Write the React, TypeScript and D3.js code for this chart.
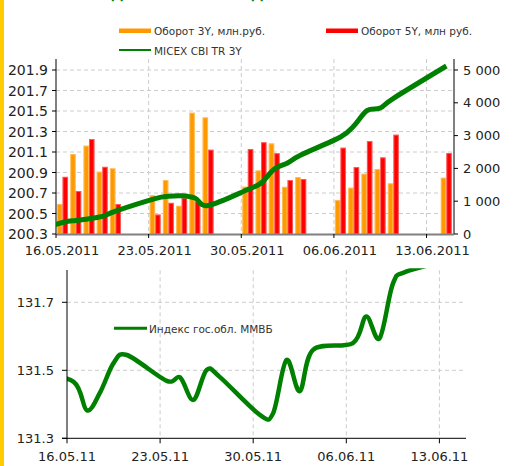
import React from 'react';
import * as d3 from 'd3';

// ---- data ----
const tradeDays = [
  '2011-05-16', '2011-05-17', '2011-05-18', '2011-05-19', '2011-05-20',
  '2011-05-23', '2011-05-24', '2011-05-25', '2011-05-26', '2011-05-27',
  '2011-05-30', '2011-05-31', '2011-06-01', '2011-06-02', '2011-06-03',
  '2011-06-06', '2011-06-07', '2011-06-08', '2011-06-09', '2011-06-10',
  '2011-06-14',
];
const turnover3Y = [915, 2439, 2693, 1900, 2005, 1185, 1646, 860, 3699, 3557, 1443, 1940, 2764, 1438, 1738, 1037, 1412, 1839, 1982, 1545, 1716];
const turnover5Y = [1743, 1311, 2896, 2048, 915, 595, 950, 1100, 990, 2571, 2591, 2800, 2465, 1646, 1677, 2632, 2043, 2835, 2337, 3028, 2470];

const lineDays = ['2011-05-13', ...tradeDays];
const cbiValues = [200.30, 200.412, 200.432, 200.449, 200.471, 200.524, 200.646, 200.668, 200.673, 200.651, 200.578, 200.734, 200.798, 200.934, 200.993, 201.071, 201.246, 201.354, 201.503, 201.529, 201.624, 201.939];
const mmvbValues = [131.495, 131.466, 131.382, 131.436, 131.521, 131.545, 131.469, 131.479, 131.413, 131.501, 131.48, 131.369, 131.374, 131.53, 131.439, 131.56, 131.58, 131.658, 131.594, 131.754, 131.79, 131.83];

const leftTicks = [200.3, 200.5, 200.7, 200.9, 201.1, 201.3, 201.5, 201.7, 201.9];
const rightTicks = [0, 1000, 2000, 3000, 4000, 5000];
const bottomTicks = [131.3, 131.5, 131.7];
const weekTicks = ['2011-05-16', '2011-05-23', '2011-05-30', '2011-06-06', '2011-06-13'];
const domainDays = ['2011-05-16', '2011-06-15'];

const legendTop = ['Оборот 3Y, млн.руб.', 'Оборот 5Y, млн руб.', 'MICEX CBI TR 3Y'];
const legendBottom = 'Индекс гос.обл. ММВБ';
const titleText = 'Динамика';

const parse = (s: string) => new Date(s + 'T00:00:00Z');
const FONT = 'DejaVu Sans, Verdana, sans-serif';
const ORANGE = '#FF9900';
const RED = '#FF0000';
const GREEN = '#008000';
const GRID = '#cccccc';

const spaceFmt = d3.formatLocale({ decimal: '.', thousands: ' ', grouping: [3], currency: ['', ''] }).format(',');

export default function App() {
  // top chart
  const T = { l: 56, r: 453, t: 70, b: 234, top: 59 };
  const x1 = d3.scaleUtc().domain(domainDays.map(parse)).range([T.l, T.r]);
  const yL = d3.scaleLinear().domain([200.3, 201.9]).range([T.b, T.t]);
  const yR = d3.scaleLinear().domain([0, 5000]).range([T.b, T.t]);
  const center1 = (s: string) => x1(d3.utcHour.offset(parse(s), 12));
  const line1 = d3.line<number>()
    .x((_, i) => center1(lineDays[i]))
    .y((v) => yL(v))
    .curve(d3.curveCardinal.tension(0));

  // bottom chart
  const B = { l: 67, r: 466, t: 268.3, b: 438.3 };
  const x2 = d3.scaleUtc().domain(domainDays.map(parse)).range([B.l, B.r]);
  const y2 = d3.scaleLinear().domain([131.3, 131.8]).range([B.b, B.t]);
  const center2 = (s: string) => x2(d3.utcHour.offset(parse(s), 12));
  const line2 = d3.line<number>()
    .x((_, i) => center2(lineDays[i]))
    .y((v) => y2(v))
    .curve(d3.curveCardinal.tension(0));

  const fmtLong = d3.utcFormat('%d.%m.%Y');
  const fmtShort = d3.utcFormat('%d.%m.%y');

  return (
    <svg width={514} height={466} style={{ position: 'fixed', left: 0, top: 0, background: '#fff' }} fontFamily={FONT}>
      <defs>
        <clipPath id="clipTop"><rect x={T.l} y={T.top} width={T.r - T.l} height={T.b - T.top} /></clipPath>
        <clipPath id="clipBot"><rect x={B.l} y={B.t} width={B.r - B.l} height={B.b - B.t} /></clipPath>
      </defs>
      <rect x={0} y={0} width={514} height={466} fill="#fff" />
      <rect x={0} y={0} width={4} height={466} fill="#FFCC00" />

      {/* cut-off title */}
      <text x={111} y={-1} fontSize={14} fontWeight="bold" fill={GREEN}>{titleText}</text>
      <text x={251} y={-1} fontSize={14} fontWeight="bold" fill={GREEN}>{titleText}</text>

      {/* legend top */}
      <rect x={119} y={28.5} width={32} height={4.5} fill={ORANGE} />
      <text x={154} y={30.8} fontSize={10.5} fill="#333" dominantBaseline="central">{legendTop[0]}</text>
      <rect x={326} y={28.5} width={32} height={4.5} fill={RED} />
      <text x={361} y={30.8} fontSize={10.5} fill="#333" dominantBaseline="central">{legendTop[1]}</text>
      <line x1={119} x2={151} y1={50} y2={50} stroke={GREEN} strokeWidth={2} />
      <text x={154} y={50.5} fontSize={10.5} fill="#333" dominantBaseline="central">{legendTop[2]}</text>

      {/* top grid */}
      {leftTicks.slice(1).map((v) => (
        <line key={'hg' + v} x1={T.l} x2={T.r} y1={yL(v)} y2={yL(v)} stroke={GRID} strokeDasharray="4,3" />
      ))}
      {weekTicks.slice(1).map((d) => (
        <line key={'vg' + d} x1={x1(parse(d))} x2={x1(parse(d))} y1={T.top} y2={T.b} stroke={GRID} strokeDasharray="4,3" />
      ))}

      {/* bars */}
      {tradeDays.map((d, i) => {
        const x0 = x1(parse(d));
        const band = x1(d3.utcDay.offset(parse(d), 1)) - x0;
        const w = (band - 2.2) / 2;
        const yo = yR(turnover3Y[i]);
        const yr = yR(turnover5Y[i]);
        return (
          <g key={'b' + d}>
            <rect x={x0 + 1} y={yo} width={w} height={T.b - yo} fill={ORANGE} />
            <rect x={x0 + 1.5} y={yo + 0.5} width={w - 1} height={T.b - yo - 0.5} fill="none" stroke="rgba(255,255,255,0.35)" />
            <rect x={x0 + 1 + w} y={yr} width={w} height={T.b - yr} fill={RED} />
            <rect x={x0 + 1.5 + w} y={yr + 0.5} width={w - 1} height={T.b - yr - 0.5} fill="none" stroke="rgba(255,255,255,0.35)" />
          </g>
        );
      })}

      {/* top axes */}
      <line x1={T.l} x2={T.l} y1={T.top} y2={T.b} stroke="#000" />
      <line x1={T.r + 1} x2={T.r + 1} y1={T.top} y2={T.b} stroke="#000" />
      <line x1={T.l} x2={T.r + 1} y1={T.b + 0.5} y2={T.b + 0.5} stroke="#808080" strokeWidth={2} />
      {leftTicks.map((v) => (
        <g key={'lt' + v}>
          <line x1={T.l - 4} x2={T.l} y1={yL(v)} y2={yL(v)} stroke="#000" />
          <text x={48} y={yL(v)} fontSize={14} fill="#222" textAnchor="end" dominantBaseline="central">{v.toFixed(1)}</text>
        </g>
      ))}
      {rightTicks.map((v) => (
        <g key={'rt' + v}>
          <line x1={T.r + 1} x2={T.r + 5} y1={yR(v)} y2={yR(v)} stroke="#000" />
          <text x={463} y={yR(v)} fontSize={13} fill="#222" dominantBaseline="central">{spaceFmt(v)}</text>
        </g>
      ))}
      {weekTicks.map((d) => (
        <g key={'xt' + d}>
          <line x1={x1(parse(d))} x2={x1(parse(d))} y1={T.b} y2={T.b + 4} stroke="#000" />
          <text x={x1(parse(d)) + 6} y={255} fontSize={13} fill="#222" textAnchor="middle">{fmtLong(parse(d))}</text>
        </g>
      ))}

      {/* top line */}
      <path d={line1(cbiValues) || ''} fill="none" stroke={GREEN} strokeWidth={5} strokeLinejoin="round" clipPath="url(#clipTop)" />

      {/* bottom grid */}
      {bottomTicks.slice(1).map((v) => (
        <line key={'bhg' + v} x1={B.l} x2={B.r - 3} y1={y2(v)} y2={y2(v)} stroke={GRID} strokeDasharray="4,3" />
      ))}
      {weekTicks.slice(1).map((d) => (
        <line key={'bvg' + d} x1={x2(parse(d))} x2={x2(parse(d))} y1={B.t + 2} y2={B.b} stroke={GRID} strokeDasharray="4,3" />
      ))}

      {/* bottom legend */}
      <line x1={114} x2={147} y1={328.3} y2={328.3} stroke={GREEN} strokeWidth={3} />
      <text x={149} y={328.5} fontSize={10.5} fill="#333" dominantBaseline="central">{legendBottom}</text>

      {/* bottom line */}
      <path d={line2(mmvbValues) || ''} fill="none" stroke={GREEN} strokeWidth={4.5} strokeLinejoin="round" clipPath="url(#clipBot)" />

      {/* bottom axes */}
      <line x1={B.l} x2={B.l} y1={270} y2={B.b} stroke="#000" />
      <line x1={B.l - 5} x2={B.r} y1={B.b} y2={B.b} stroke="#000" />
      {bottomTicks.map((v) => (
        <g key={'blt' + v}>
          <line x1={B.l - 5} x2={B.l} y1={y2(v)} y2={y2(v)} stroke="#000" />
          <text x={54} y={y2(v)} fontSize={13} fill="#222" textAnchor="end" dominantBaseline="central">{v.toFixed(1)}</text>
        </g>
      ))}
      {weekTicks.map((d) => (
        <g key={'bxt' + d}>
          <line x1={x2(parse(d))} x2={x2(parse(d))} y1={B.b} y2={B.b + 5} stroke="#000" />
          <text x={x2(parse(d))} y={461} fontSize={13} fill="#222" textAnchor="middle">{fmtShort(parse(d))}</text>
        </g>
      ))}
    </svg>
  );
}
